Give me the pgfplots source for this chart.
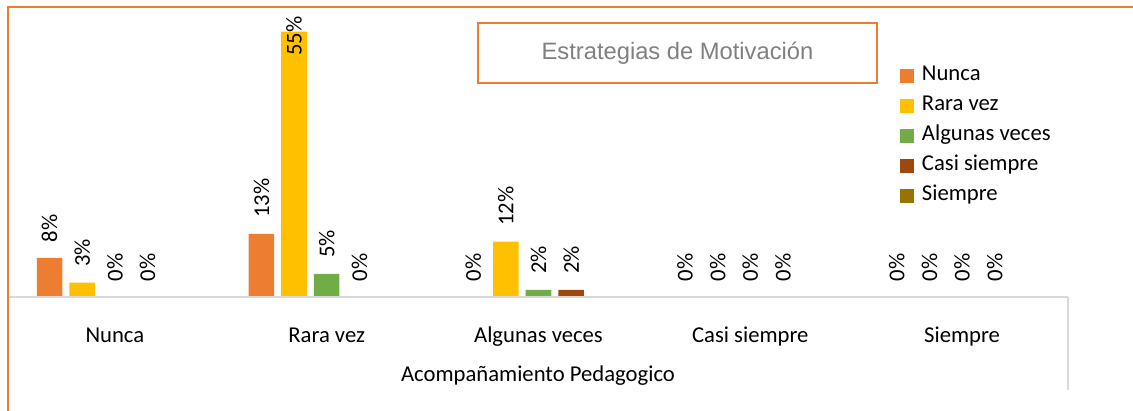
\documentclass[border=0pt]{standalone}
\usepackage{pgfplots}
\pgfplotsset{compat=1.18}
\usepackage{fontspec}
\setmainfont{Carlito}
\newfontfamily\arialfont{Liberation Sans}
\definecolor{cNunca}{HTML}{ED7D31}
\definecolor{cRara}{HTML}{FFC000}
\definecolor{cAlg}{HTML}{70AD47}
\definecolor{cCasi}{HTML}{9E480E}
\definecolor{cSiem}{HTML}{997300}
\definecolor{lgray}{HTML}{D9D9D9}
\definecolor{tgray}{HTML}{808080}
\newcommand{\bigf}{\fontsize{17}{20.4}\selectfont}
\begin{document}
\begin{tikzpicture}
\begin{axis}[
  name=ax,
  scale only axis,
  axis on top,
  width=794.25pt, height=208.05pt,
  ybar=5.3pt, bar width=19.2pt,
  xmin=-0.5, xmax=4.5, ymin=0, ymax=57.5,
  axis y line=none,
  axis x line*=bottom,
  x axis line style={draw=lgray, line width=1.3pt, -},
  xtick={0,1,2,3,4},
  xticklabels={Nunca,Rara vez,Algunas veces,Casi siempre,Siempre},
  xtick style={draw=none},
  xticklabel style={anchor=base, yshift=-29.8pt, font=\bigf},
  ytick=\empty,
  clip=false,
  point meta=explicit symbolic,
  visualization depends on={rawy \as \rawy},
  every node near coord/.append style={rotate=90, anchor=west, font=\bigf, text=black,
     xshift={ifthenelse(\rawy>50,-21.6,8.4)}},
  legend style={at={(axis description cs:0.8376,0.847)}, anchor=north west,
     draw=none, fill=none, font=\bigf, row sep=6.5pt,
     nodes={inner ysep=0pt, inner xsep=2pt, text height=12pt, text depth=4pt},
     /tikz/every odd column/.append style={column sep=3.75pt}},
  legend cell align=left,
  legend image code/.code={\fill[#1] (0pt,-5.25pt) rectangle (10.5pt,5.25pt);},
]
\addplot[fill=cNunca, draw=none, nodes near coords] coordinates
  {(0,8.1)[8\%] (1,13.1)[13\%] (2,0)[0\%] (3,0)[0\%] (4,0)[0\%]};
\addplot[fill=cRara, draw=none, nodes near coords] coordinates
  {(0,3.0)[3\%] (1,55)[55\%] (2,11.5)[12\%] (3,0)[0\%] (4,0)[0\%]};
\addplot[fill=cAlg, draw=none, nodes near coords] coordinates
  {(0,0)[0\%] (1,4.8)[5\%] (2,1.5)[2\%] (3,0)[0\%] (4,0)[0\%]};
\addplot[fill=cCasi, draw=none, nodes near coords] coordinates
  {(0,0)[0\%] (1,0)[0\%] (2,1.5)[2\%] (3,0)[0\%] (4,0)[0\%]};
\addplot[fill=cSiem, draw=none] coordinates
  {(0,0)[] (1,0)[] (2,0)[] (3,0)[] (4,0)[]};
\legend{Nunca,Rara vez,Algunas veces,Casi siempre,Siempre}
\end{axis}
\begin{scope}[shift={(ax.south west)}, x=0.75pt, y=0.75pt]
  \draw[cNunca, line width=1.5pt] (-1,-114) -- (-1,290) -- (1124,290);
  \draw[lgray, line width=1.3pt] (1059,0) -- (1059,-93);
  \node[anchor=base, font=\bigf, text=black, inner sep=0pt] at (529,-84.7) {Acompañamiento Pedagogico};
  \node[draw=cNunca, line width=1.5pt, minimum width=299pt, minimum height=45pt,
        font=\arialfont\fontsize{17.8}{21}\selectfont, text=tgray] at (668.5,244) {Estrategias de Motivación};
\end{scope}
\pgfresetboundingbox
\path[use as bounding box] ([shift={(-6.75pt,-85.5pt)}]ax.south west) rectangle ([shift={(843pt,222.75pt)}]ax.south west);
\end{tikzpicture}
\end{document}
